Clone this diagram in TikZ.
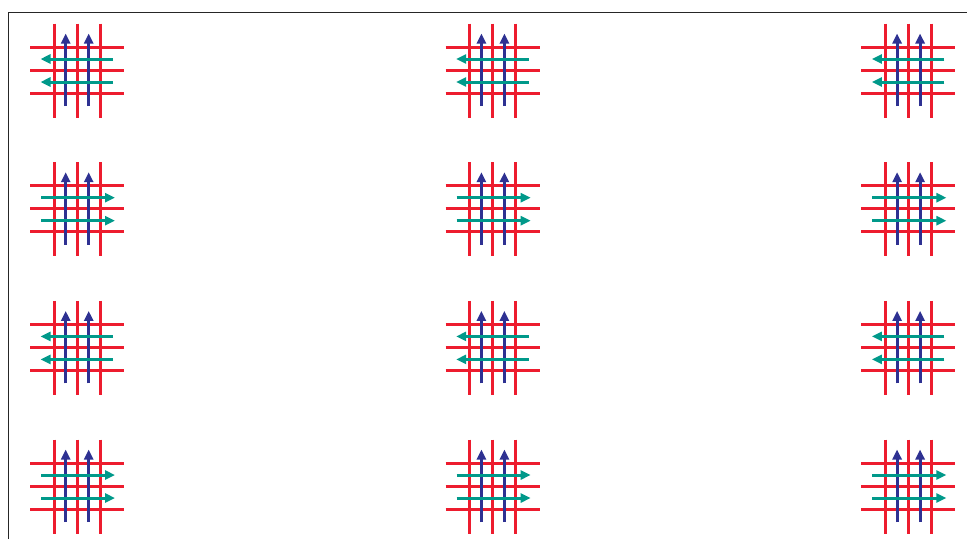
\documentclass[tikz,border=0pt]{standalone}
\usetikzlibrary{arrows.meta}
\definecolor{gridred}{HTML}{ED1C2E}
\definecolor{upblue}{HTML}{2E3192}
\definecolor{flowgreen}{HTML}{00998A}
\tikzset{
  x=1pt,y=-1pt,
  redline/.style={draw=gridred,line width=3pt},
  blueline/.style={draw=upblue,line width=3pt,-{Triangle[length=10pt,width=9pt]}},
  greenline/.style={draw=flowgreen,line width=3pt,-{Triangle[length=10pt,width=9pt]}},
  frameline/.style={draw=black!85,line width=1pt}
}
\newcommand{\crosscell}[3]{%
  \begin{scope}[shift={(#1,#2)}]
    \foreach \v in {54,77,100} \draw[redline] (\v,23.5) -- (\v,117.5);
    \foreach \h in {47,70,93} \draw[redline] (30,\h) -- (124,\h);
    \foreach \v in {65.7,88.7} \draw[blueline] (\v,106) -- (\v,33.5);
    \foreach \h in {59,82} {
      \ifnum#3=0 \draw[greenline] (113,\h) -- (40.5,\h);
      \else \draw[greenline] (41,\h) -- (115,\h);\fi
    }
  \end{scope}}
\begin{document}
\begin{tikzpicture}
\useasboundingbox (0,0) rectangle (967,539);
\fill[white] (0,0) rectangle (967,539);
\draw[frameline] (8,539) -- (8,12) -- (967,12);
\foreach \cx in {0,415.7,831.4} {
  \crosscell{\cx}{0}{0}
  \crosscell{\cx}{138.7}{1}
  \crosscell{\cx}{277.4}{0}
  \crosscell{\cx}{416}{1}
}
\end{tikzpicture}
\end{document}
